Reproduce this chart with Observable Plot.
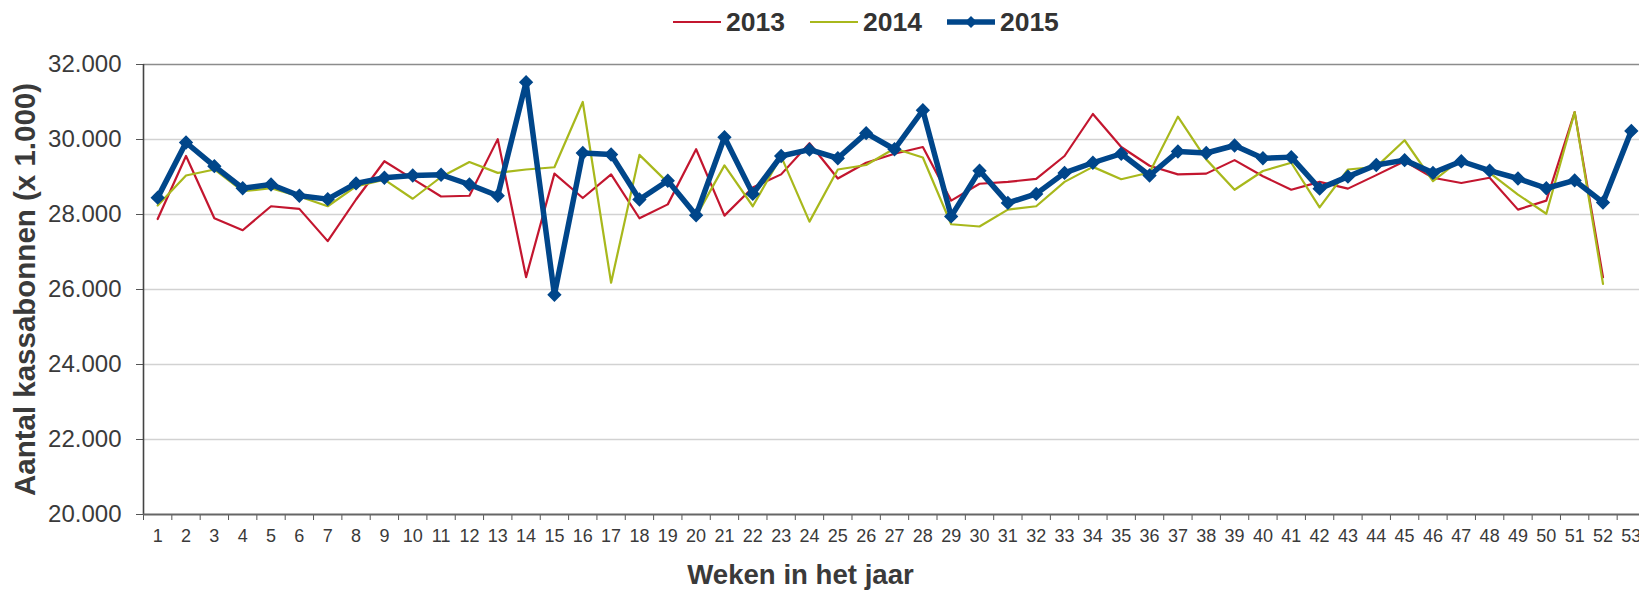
<!DOCTYPE html>
<html>
<head>
<meta charset="utf-8">
<script src="https://cdn.jsdelivr.net/npm/d3@7"></script>
<script src="https://cdn.jsdelivr.net/npm/@observablehq/plot@0.6"></script>
<style>
  html, body { margin: 0; padding: 0; overflow: hidden; background: #fff; }
  body { width: 1639px; height: 594px; font-family: "Liberation Sans", Arial, sans-serif; }
  #legend { position: relative; height: 50px; }
  #legend .items { position: absolute; left: 673px; top: 0; height: 44px; display: flex; align-items: center; }
  #legend .item { display: flex; align-items: center; margin-right: 25px; }
  #legend .item span { margin-left: 5px; font-size: 26.5px; font-weight: bold; color: #333; }
  #chart { width: 1660px; }
  #chart svg { max-width: none !important; }
</style>
</head>
<body>
<div id="legend"><div class="items"></div></div>
<div id="chart"></div>
<script>
// ---- data ----
const weeks = d3.range(1, 54);
const seriesNames = ["2013", "2014", "2015"];
const seriesColors = ["#C3162F", "#A8B81C", "#00468A"];
const v2013 = [27880, 29560, 27900, 27580, 28220, 28150, 27290, 28400, 29420, 28950,
  28480, 28500, 30010, 26330, 29090, 28440, 29070, 27900, 28270, 29740,
  27970, 28720, 29070, 29900, 28960, 29380, 29620, 29800, 28370, 28820,
  28870, 28950, 29560, 30680, 29800, 29300, 29070, 29090, 29450, 29020,
  28660, 28870, 28690, 29050, 29420, 28980, 28840, 28980, 28130, 28370,
  30730, 26330];
const v2014 = [28240, 29040, 29200, 28620, 28700, 28480, 28220, 28750, 28930, 28420,
  29000, 29400, 29110, 29200, 29260, 31000, 26180, 29590, 28850, 27950,
  29310, 28220, 29550, 27810, 29200, 29320, 29760, 29520, 27740, 27680,
  28130, 28220, 28870, 29270, 28940, 29120, 30610, 29470, 28660, 29160,
  29380, 28190, 29200, 29270, 29980, 28890, 29480, 29110, 28530, 28020,
  30730, 26150];
const v2015 = [28450, 29920, 29290, 28700, 28800, 28500, 28410, 28830, 28980, 29040,
  29060, 28800, 28500, 31530, 25860, 29640, 29600, 28400, 28900, 27980,
  30060, 28550, 29560, 29730, 29500, 30170, 29740, 30780, 27950, 29170,
  28310, 28550, 29110, 29380, 29620, 29040, 29680, 29640, 29840, 29500,
  29530, 28690, 29010, 29320, 29450, 29110, 29420, 29170, 28960, 28700,
  28910, 28320, 30230];
const yTicks = [20000, 22000, 24000, 26000, 28000, 30000, 32000];
const gridTicks = [22000, 24000, 26000, 28000, 30000];
const xTitle = "Weken in het jaar";
const yTitle = "Aantal kassabonnen (x 1.000)";

// ---- tables ----
const toRows = (vals) => vals.map((v, i) => ({week: weeks[i], value: v}));
const d2013 = toRows(v2013);
const d2014 = toRows(v2014);
const d2015 = toRows(v2015);
const fmt = (v) => d3.format(",")(v).replace(/,/g, ".");
const textColor = "#3a3a3a";

// ---- legend ----
const items = document.querySelector("#legend .items");
seriesNames.forEach((name, i) => {
  const it = document.createElement("div");
  it.className = "item";
  const thick = i === 2;
  const sw = thick ? 5.5 : 2.2;
  let svg = `<svg width="48" height="20" viewBox="0 0 48 20"><line x1="0" x2="48" y1="10" y2="10" stroke="${seriesColors[i]}" stroke-width="${sw}" stroke-linecap="round"/>`;
  if (thick) svg += `<path d="M24,4 L30,10 L24,16 L18,10 Z" fill="${seriesColors[i]}"/>`;
  svg += `</svg>`;
  it.innerHTML = svg + `<span>${name}</span>`;
  items.appendChild(it);
});

// ---- chart ----
const chart = Plot.plot({
  width: 1660,
  height: 544,
  marginLeft: 143,
  marginRight: 15,
  marginTop: 14,
  marginBottom: 80,
  style: {fontFamily: '"Liberation Sans", Arial, sans-serif', background: "white", overflow: "visible", maxWidth: "none"},
  x: {domain: [0.5, 53.5], axis: null},
  y: {domain: [20000, 32000], axis: null},
  marks: [
    Plot.ruleY(gridTicks, {stroke: "#d2d2d2", strokeWidth: 1.4}),
    Plot.ruleY([32000], {stroke: "#8c8c8c", strokeWidth: 1.6}),
    Plot.axisY({ticks: yTicks, tickFormat: fmt, tickSize: 7, tickPadding: 15, fontSize: 24, color: textColor, stroke: "#555", label: null}),
    Plot.axisX({ticks: weeks, tickSize: 0, tickPadding: 15, fontSize: 18, color: textColor, label: null, tickFormat: (d) => String(d)}),
    Plot.axisX({ticks: d3.range(0.5, 54, 1), tickSize: 6, tickFormat: () => "", stroke: "#555", label: null}),
    Plot.ruleX([0.5], {stroke: "#444", strokeWidth: 1.6}),
    Plot.ruleY([20000], {stroke: "#666", strokeWidth: 2}),
    Plot.line(d2013, {x: "week", y: "value", stroke: seriesColors[0], strokeWidth: 2.2, strokeLinejoin: "round"}),
    Plot.line(d2014, {x: "week", y: "value", stroke: seriesColors[1], strokeWidth: 2.2, strokeLinejoin: "round"}),
    Plot.line(d2015, {x: "week", y: "value", stroke: seriesColors[2], strokeWidth: 5.5, strokeLinejoin: "round"}),
    Plot.dot(d2015, {x: "week", y: "value", symbol: "diamond2", r: 5.5, fill: seriesColors[2], stroke: seriesColors[2], strokeWidth: 1.5}),
    Plot.text([xTitle], {text: (d) => d, frameAnchor: "bottom-left", dx: 657, dy: 69, fontSize: 27.6, fontWeight: "bold", fill: textColor, textAnchor: "middle"}),
    Plot.text([yTitle], {text: (d) => d, frameAnchor: "left", dx: -118, rotate: -90, fontSize: 29.5, fontWeight: "bold", fill: textColor, textAnchor: "middle"})
  ]
});
document.getElementById("chart").appendChild(chart);
</script>
</body>
</html>
